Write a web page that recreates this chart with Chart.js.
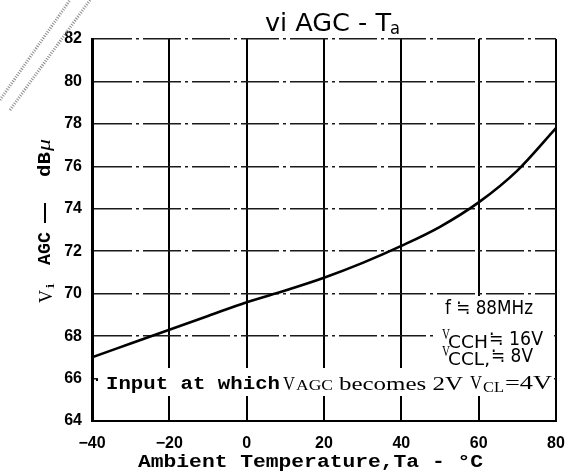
<!DOCTYPE html>
<html>
<head>
<meta charset="utf-8">
<script src="https://cdn.jsdelivr.net/npm/chart.js@4.4.1/dist/chart.umd.min.js"></script>
<style>
  html, body { margin: 0; padding: 0; background: #fff; }
  #wrap { width: 568px; height: 473px; position: relative; }
</style>
</head>
<body>
<div id="wrap"><canvas id="c" width="568" height="473"></canvas></div>
<script>
// ---- data ----
const temperatures = [-40, -30, -20, -10, 0, 10, 20, 30, 40, 50, 60, 70, 80];
const viAgc = [67.0, 67.65, 68.3, 68.95, 69.6, 70.15, 70.75, 71.45, 72.25, 73.15, 74.3, 75.8, 77.8];
const xTickValues = [-40, -20, 0, 20, 40, 60, 80];
const yTickValues = [64, 66, 68, 70, 72, 74, 76, 78, 80, 82];
const chartTitle = "vi AGC - T";
const xTitle = "Ambient Temperature,Ta - °C";
const noteLines = ["f ≒ 88MHz", "≒ 16V", "≒ 8V"];

const MONO = '"Liberation Mono", "DejaVu Sans Mono", monospace';
const SERIF = '"Liberation Serif", "DejaVu Serif", serif';
const NARROW = '"Liberation Sans Narrow", "DejaVu Sans Condensed", "Liberation Sans", sans-serif';

function fitText(ctx, text, x, y, w, font) {
  ctx.font = font;
  const m = ctx.measureText(text).width || 1;
  ctx.save();
  ctx.translate(x, y);
  ctx.scale(w / m, 1);
  ctx.fillText(text, 0, 0);
  ctx.restore();
}

const decorPlugin = {
  id: 'decor',
  beforeDatasetsDraw(chart) {
    const ctx = chart.ctx;
    const a = chart.chartArea;
    ctx.save();
    // white boxes behind annotations
    ctx.fillStyle = '#fff';
    ctx.fillRect(a.left + 6, 368, a.right - a.left - 8, 28);
    ctx.fillRect(436, 296, a.right - 438, 74);
    ctx.fillStyle = '#000';
    ctx.textBaseline = 'alphabetic';
    ctx.textAlign = 'left';
    // bottom note line
    ctx.fillRect(a.left + 4, 379, 2, 2);
    fitText(ctx, 'Input at which', 106, 389, 174, 'bold 19px ' + MONO);
    fitText(ctx, 'V', 283, 390, 12, '19px ' + SERIF);
    fitText(ctx, 'AGC', 296, 390, 37, '14px ' + SERIF);
    fitText(ctx, 'becomes 2V', 339, 390, 124, '19px ' + SERIF);
    fitText(ctx, 'V', 470, 389, 12, '19px ' + SERIF);
    fitText(ctx, 'CL', 483, 392, 21, '14px ' + SERIF);
    fitText(ctx, '=4V', 505, 389, 47, '19px ' + SERIF);
    // f block
    fitText(ctx, noteLines[0], 445, 314, 88, '20px ' + NARROW);
    fitText(ctx, 'V', 442, 339, 8, '14px ' + SERIF);
    fitText(ctx, 'CCH', 448, 348, 40, '17px ' + NARROW);
    fitText(ctx, noteLines[1], 489, 345, 54, '20px ' + NARROW);
    fitText(ctx, 'V', 442, 356, 8, '14px ' + SERIF);
    fitText(ctx, 'CCL,', 448, 365, 42, '17px ' + NARROW);
    fitText(ctx, noteLines[2], 491, 362, 42, '20px ' + NARROW);
    ctx.restore();
  },
  afterDraw(chart) {
    const ctx = chart.ctx;
    ctx.save();
    ctx.fillStyle = '#000';
    ctx.textBaseline = 'alphabetic';
    // title
    fitText(ctx, chartTitle, 265, 31, 126, '24px ' + NARROW);
    fitText(ctx, 'a', 390, 34, 10, '18px ' + NARROW);
    // x title
    fitText(ctx, xTitle, 138, 467, 345, 'bold 19px ' + MONO);
    // y title (rotated)
    ctx.translate(45, 221);
    ctx.rotate(-Math.PI / 2);
    ctx.textBaseline = 'middle';
    fitText(ctx, 'V', -82, 2, 13, '18px ' + SERIF);
    fitText(ctx, 'i', -68, 6, 6, '13px ' + SERIF);
    fitText(ctx, 'AGC', -44, 0, 33, 'bold 19px ' + MONO);
    ctx.fillRect(-2, -1, 20, 2);
    fitText(ctx, 'dB', 44, 0, 25, 'bold 19px ' + MONO);
    fitText(ctx, 'μ', 70, 0, 12, 'italic 19px ' + SERIF);
    ctx.restore();
    // scan artifacts at top-left
    ctx.save();
    ctx.strokeStyle = '#8a8a8a';
    ctx.lineWidth = 3;
    ctx.setLineDash([1, 1.5]);
    ctx.beginPath();
    ctx.moveTo(0, 100); ctx.lineTo(70, 0);
    ctx.moveTo(10, 110); ctx.lineTo(90, 0);
    ctx.stroke();
    ctx.restore();
  }
};

new Chart(document.getElementById('c'), {
  type: 'line',
  data: {
    datasets: [{
      data: temperatures.map((t, i) => ({ x: t, y: viAgc[i] })),
      borderColor: '#000',
      borderWidth: 2.6,
      pointRadius: 0,
      tension: 0.4,
      cubicInterpolationMode: 'monotone',
      fill: false
    }]
  },
  options: {
    responsive: false,
    animation: false,
    devicePixelRatio: 1,
    layout: { padding: { top: 39, right: 12, left: 0, bottom: 0 } },
    plugins: { legend: { display: false }, tooltip: { enabled: false }, title: { display: false } },
    scales: {
      x: {
        type: 'linear',
        min: -40, max: 80,
        afterBuildTicks: (s) => { s.ticks = xTickValues.map(v => ({ value: v })); },
        afterFit: (s) => { s.height = 52; s.paddingLeft = 0; s.paddingRight = 0; },
        ticks: {
          color: '#000',
          padding: 13,
          maxRotation: 0,
          font: { family: '"Liberation Sans", Arial, sans-serif', size: 16, weight: 'bold' },
          callback: (v) => (v < 0 ? '\u2212' + Math.abs(v) : String(v))
        },
        grid: { color: '#000', lineWidth: 2, drawTicks: false },
        border: { display: true, color: '#000', width: 2 }
      },
      y: {
        min: 64, max: 82,
        afterBuildTicks: (s) => { s.ticks = yTickValues.map(v => ({ value: v })); },
        afterFit: (s) => { s.width = 92; },
        ticks: {
          color: '#000',
          padding: 10,
          font: { family: '"Liberation Sans", Arial, sans-serif', size: 16, weight: 'bold' }
        },
        grid: { color: '#1a1a1a', lineWidth: 1.5, drawTicks: false },
        border: { display: true, color: '#000', width: 3, dash: [38, 4, 3, 4] }
      }
    }
  },
  plugins: [decorPlugin]
});
</script>
</body>
</html>
